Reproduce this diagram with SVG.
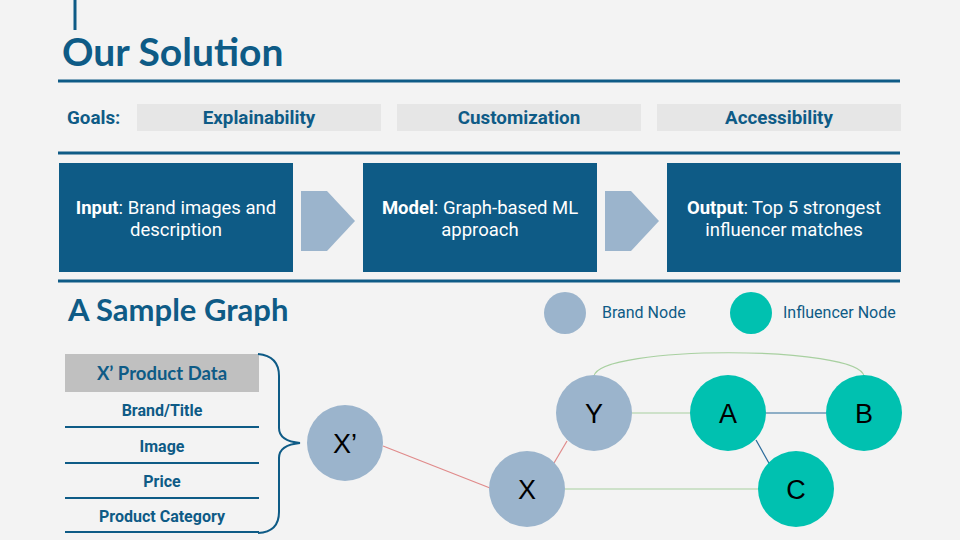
<svg xmlns="http://www.w3.org/2000/svg" width="960" height="540" viewBox="0 0 960 540">
<style>
.rule{stroke:#0e5b86;stroke-width:3;fill:none}
.goal{fill:#e6e6e6}
.gtxt{font-family:Roboto,"Liberation Sans",sans-serif;font-weight:bold;font-size:18.8px;fill:#0e5b86;text-anchor:middle}
.blk{fill:#0e5b86}
.btxt{font-family:Roboto,"Liberation Sans",sans-serif;font-size:18.5px;fill:#ffffff;text-anchor:middle}
.arrow{fill:#9bb4cc}
.brand{fill:#9bb4cc}
.infl{fill:#00c1b0}
.ntxt{font-family:"Liberation Sans",Arial,sans-serif;font-size:27px;fill:#000;text-anchor:middle}
.head{font-family:Lato,Inter,sans-serif;font-weight:bold;fill:#0e5b86}
.ltxt{font-family:Roboto,"Liberation Sans",sans-serif;font-size:16px;fill:#0e5b86}
.ttxt{font-family:Roboto,"Liberation Sans",sans-serif;font-weight:bold;font-size:16px;fill:#0e5b86;text-anchor:middle}
.row{stroke:#0e5b86;stroke-width:2}
</style>
<rect width="960" height="540" fill="#f3f3f3"/>
<line x1="75" y1="0" x2="75" y2="30" stroke="#0e5b86" stroke-width="3"/>
<text x="62" y="66" class="head" font-size="39">Our Solution</text>
<line class="rule" x1="58" y1="81" x2="900" y2="81"/>
<text x="67" y="124" class="gtxt" style="text-anchor:start">Goals:</text>
<g id="goal-explainability"><rect class="goal" x="137" y="104" width="244" height="27"/><text x="259" y="124" class="gtxt">Explainability</text></g>
<g id="goal-customization"><rect class="goal" x="397" y="104" width="244" height="27"/><text x="519" y="124" class="gtxt">Customization</text></g>
<g id="goal-accessibility"><rect class="goal" x="657" y="104" width="244" height="27"/><text x="779" y="124" class="gtxt">Accessibility</text></g>
<line class="rule" x1="58" y1="153" x2="900" y2="153"/>
<g id="input"><rect class="blk" x="59" y="163" width="234" height="109"/>
<text class="btxt" x="176" y="214"><tspan font-weight="bold">Input</tspan>: Brand images and</text>
<text class="btxt" x="176" y="236">description</text></g>
<g id="arrow1"><polygon class="arrow" points="301,191 327,191 355,221 327,251 301,251"/></g>
<g id="model"><rect class="blk" x="363" y="163" width="234" height="109"/>
<text class="btxt" x="480" y="214"><tspan font-weight="bold">Model</tspan>: Graph-based ML</text>
<text class="btxt" x="480" y="236">approach</text></g>
<g id="arrow2"><polygon class="arrow" points="605,191 631,191 659,221 631,251 605,251"/></g>
<g id="output"><rect class="blk" x="667" y="163" width="234" height="109"/>
<text class="btxt" x="784" y="214"><tspan font-weight="bold">Output</tspan>: Top 5 strongest</text>
<text class="btxt" x="784" y="236">influencer matches</text></g>
<line class="rule" x1="58" y1="281" x2="900" y2="281"/>
<text x="68" y="321" class="head" font-size="31">A Sample Graph</text>
<g id="legend-brand"><circle class="brand" cx="565" cy="313" r="21"/><text class="ltxt" x="602" y="318">Brand Node</text></g>
<g id="legend-influencer"><circle class="infl" cx="751" cy="313" r="21"/><text class="ltxt" x="783" y="318">Influencer Node</text></g>
<g id="product-table">
<rect x="65" y="354" width="194" height="38" fill="#c0c0c0"/>
<text x="162" y="380" class="head" font-size="18.5" text-anchor="middle">X’ Product Data</text>
<text x="162" y="416" class="ttxt">Brand/Title</text>
<line class="row" x1="65" y1="427" x2="259" y2="427"/>
<text x="162" y="452" class="ttxt">Image</text>
<line class="row" x1="65" y1="463" x2="259" y2="463"/>
<text x="162" y="487" class="ttxt">Price</text>
<line class="row" x1="65" y1="498" x2="259" y2="498"/>
<text x="162" y="522" class="ttxt">Product Category</text>
<line class="row" x1="65" y1="532" x2="259" y2="532"/>
<path d="M258,354 Q279,356 279,376 L279,428 Q279,441 300,443 Q279,445 279,458 L279,512 Q279,532 258,533" stroke="#0e5b86" stroke-width="2" fill="none"/>
</g>
<g id="connectors" fill="none" stroke-width="1.2">
<line x1="383" y1="446" x2="490" y2="488" stroke="#e08a8a"/>
<line x1="554" y1="463" x2="567" y2="441" stroke="#e08a8a"/>
<line x1="632" y1="413" x2="690" y2="413" stroke="#a8d0a0"/>
<line x1="766" y1="413" x2="826" y2="413" stroke="#2a6a9a"/>
<line x1="756" y1="440" x2="770" y2="465" stroke="#2a6a9a"/>
<line x1="565" y1="489" x2="758" y2="489" stroke="#a8d0a0"/>
<path d="M594,376 C600,345 858,345 864,376" stroke="#a8d0a0"/>
</g>
<g id="node-xprime"><circle class="brand" cx="345" cy="443" r="38"/><text class="ntxt" x="345" y="453">X’</text></g>
<g id="node-x"><circle class="brand" cx="527" cy="489" r="38"/><text class="ntxt" x="527" y="499">X</text></g>
<g id="node-y"><circle class="brand" cx="594" cy="413" r="38"/><text class="ntxt" x="594" y="423">Y</text></g>
<g id="node-a"><circle class="infl" cx="728" cy="413" r="38"/><text class="ntxt" x="728" y="423">A</text></g>
<g id="node-b"><circle class="infl" cx="864" cy="413" r="38"/><text class="ntxt" x="864" y="423">B</text></g>
<g id="node-c"><circle class="infl" cx="796" cy="489" r="38"/><text class="ntxt" x="796" y="499">C</text></g>
</svg>
